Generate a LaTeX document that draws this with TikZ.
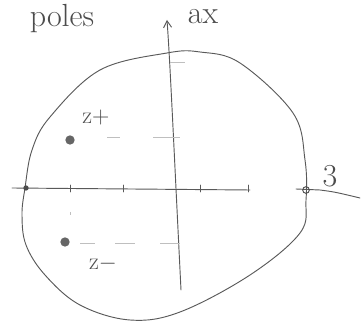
\documentclass[tikz,border=0pt]{standalone}
\usetikzlibrary{arrows.meta}
\begin{document}
\begin{tikzpicture}[x=0.75pt,y=-0.75pt,
  pen/.style={draw=black!65,line width=0.7pt,line cap=round,line join=round},
  faint/.style={draw=black!25,line width=0.6pt},
  hand/.style={text=black!70,font=\fontsize{24}{24}\selectfont,inner sep=0pt},
  pole/.style={circle,fill=black!60,inner sep=0pt,minimum size=7pt}]
\useasboundingbox (0,0) rectangle (361,323);
% labels
\node[hand,anchor=base] (poles) at (62,27) {poles};
\node[hand,anchor=base] (ax) at (203,24) {ax};
% blob
\draw[pen] plot[smooth cycle,tension=0.6] coordinates {(25,188) (32,150) (50,117) (100,70) (167,53) (200,52) (240,63) (293,113) (305,160) (306,200) (300,233) (250,275) (180,312) (130,320) (80,305) (45,275) (26,245) (22,215)};
% axes
\coordinate (vtop) at (167,20);
\coordinate (vbot) at (181,290);
\draw[pen,-{Straight Barb[length=5pt,width=6pt]}] (vbot) .. controls (174,150) and (170,60) .. (vtop);
\coordinate (hl) at (12,188);
\coordinate (hr) at (250,190);
\draw[pen] (hl) -- (hr);
\draw[pen] (296,189) -- (320,190) .. controls (335,192) .. (360,198);
% ticks
\foreach \x in {70,123,200,248}{\draw[pen] (\x,185) -- (\x,192);}
\draw[faint] (107,137) -- (120,137) (153,137) -- (180,137);
\draw[faint] (170,62) -- (185,62);
\draw[faint] (80,243) -- (95,243) (115,243) -- (135,243) (160,243) -- (180,243);
\draw[faint] (70,212) -- (70,215);
% end points
\node[circle,fill=black!70,inner sep=0pt,minimum size=4pt] (m1) at (26,188) {};
\node[circle,draw=black!70,line width=0.7pt,inner sep=0pt,minimum size=5pt] (p1) at (306,190) {};
\node[hand] (three) at (330,176) {3};
% poles
\node[pole] (zp) at (70,140) {};
\node[pole] (zm) at (65,242) {};
\node[hand,font=\fontsize{18}{18}\selectfont] (zpl) at (96,118) {z+};
\node[hand,font=\fontsize{18}{18}\selectfont] (zml) at (103,264) {z$-$};
\end{tikzpicture}
\end{document}
